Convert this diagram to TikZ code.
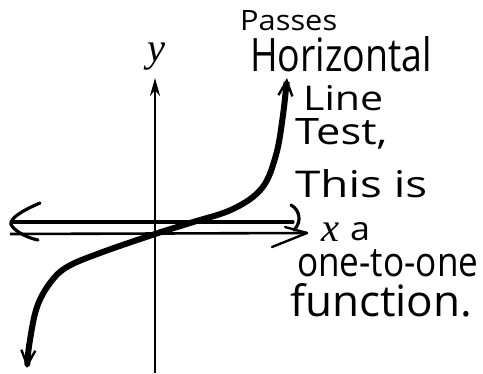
\documentclass[tikz,border=0pt]{standalone}
\usepackage{fontspec}
\usepackage{graphicx}
\newfontfamily\handfont{Open Sans}
\newfontfamily\labfont{Liberation Serif}
\usetikzlibrary{arrows.meta}
\tikzset{
  hw/.style={inner sep=0pt, anchor=base west, font=\handfont},
  axisline/.style={line width=2.6pt},
  curveline/.style={line width=6pt, line cap=round},
  hline/.style={line width=3.2pt, line cap=round},
  axlabel/.style={inner sep=0pt, anchor=base, font=\labfont\itshape}
}
\newcommand{\hwtext}[3]{\resizebox{#1pt}{#2pt}{#3}}
\begin{document}
\begin{tikzpicture}[x=1pt,y=-1pt]
\useasboundingbox (0,0) rectangle (483,373);
% coordinates
\coordinate (ybot) at (155,373);
\coordinate (ytop) at (155,78);
\coordinate (xleft) at (10,234);
\coordinate (xtip) at (307,233);
\coordinate (hleft) at (12,222);
\coordinate (hright) at (293,222);
% y axis
\draw[axisline, -{Stealth[length=18pt,width=10pt]}] (ybot) -- (ytop);
\node[axlabel] (ylab) at (157,61) {\resizebox{18pt}{!}{y}};
% x axis
\draw[axisline] (xleft) -- (xtip);
\draw[line width=2.4pt, line cap=round] (xtip) -- (272,247);
\draw[line width=2.4pt, line cap=round] (xtip) -- (285,227);
\node[axlabel] (xlab) at (331,241) {\resizebox{18pt}{!}{x}};
% horizontal test line
\draw[hline] (hleft) -- (hright);
\draw[hline] (40,203) .. controls (14,214) and (8,222) .. (12,226) .. controls (16,232) and (28,238) .. (38,240);
\draw[hline] (291,205) .. controls (300,210) and (302,222) .. (294,230);
% curve
\draw[curveline, {Straight Barb[length=15pt,width=14pt,line width=2.4pt]}-{Straight Barb[length=15pt,width=14pt,line width=2.4pt]}]
  plot[smooth, tension=0.6] coordinates {(27,368) (30,340) (37,307) (50,283) (67,267) (100,253) (155,234) (190,223) (233,209) (262,188) (276,155) (283,115) (287,78)};
% texts
\node[hw] (t1) at (240,30) {\hwtext{97}{20}{Passes}};
\node[hw] (t2) at (250,71) {\hwtext{182}{35}{Horizontal}};
\node[hw] (t3) at (303,110) {\hwtext{80}{25}{Line}};
\node[hw] (t4) at (295,144) {\hwtext{92}{26}{Test,}};
\node[hw] (t5) at (295,197) {\hwtext{132}{28}{This is}};
\node[hw] (t6) at (350,240) {\hwtext{20}{18}{a}};
\node[hw] (t7) at (297,276) {\hwtext{181}{27}{one-to-one}};
\node[hw] (t8) at (290,316) {\hwtext{182}{33}{function.}};
\end{tikzpicture}
\end{document}
